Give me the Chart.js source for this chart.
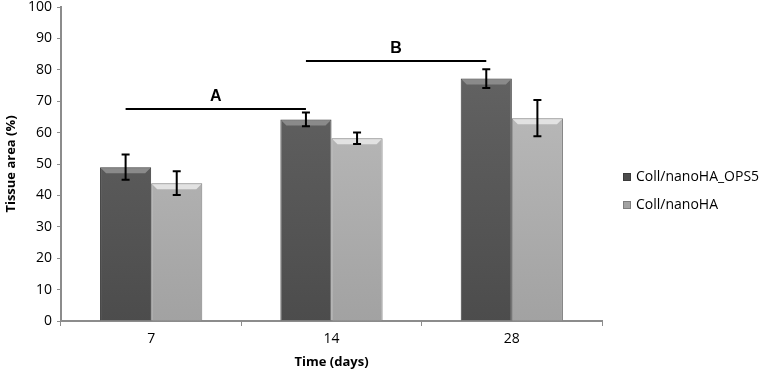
<!DOCTYPE html>
<html>
<head>
<meta charset="utf-8">
<script src="https://cdn.jsdelivr.net/npm/chart.js@4/dist/chart.umd.min.js"></script>
<style>
  body { margin: 0; background: #fff; }
  canvas { display: block; }
</style>
</head>
<body>
<canvas id="tissueChart" width="765" height="376"></canvas>
<script>
// data
const days = ['7', '14', '28'];
const seriesNames = ['Coll/nanoHA_OPS5', 'Coll/nanoHA'];
const opsValues = [49, 64.2, 77.2];
const opsErrors = [4, 2.2, 3];
const haValues = [43.9, 58.2, 64.6];
const haErrors = [3.8, 1.8, 5.8];
const yTicks = [0, 10, 20, 30, 40, 50, 60, 70, 80, 90, 100];

// significance brackets (between dark bars)
const bracketLabels = ['A', 'B'];
const bracketLevels = [67.5, 82.8];
const bracketFrom = [0, 1];
const bracketTo = [1, 2];

const fills = [['#686868', '#4c4c4c'], ['#c2c2c2', '#a2a2a2']];
const bevels = ['#8a8a8a', '#e2e2e2'];

function barGradient(di) {
    return (c) => {
        const area = c.chart.chartArea;
        if (!area) return fills[di][1];
        const g = c.chart.ctx.createLinearGradient(0, area.top, 0, area.bottom);
        g.addColorStop(0, fills[di][0]);
        g.addColorStop(1, fills[di][1]);
        return g;
    };
}

const errorBars = {
    id: 'errorBars',
    afterDatasetsDraw(chart) {
        const ctx = chart.ctx;
        const y = chart.scales.y;
        const errs = [opsErrors, haErrors];
        ctx.save();
        // bevel on bar tops
        chart.data.datasets.forEach((ds, di) => {
            chart.getDatasetMeta(di).data.forEach((bar) => {
                const l = bar.x - bar.width / 2 + 1, r = bar.x + bar.width / 2 - 1;
                ctx.fillStyle = bevels[di];
                ctx.beginPath();
                ctx.moveTo(l, bar.y + 1); ctx.lineTo(r, bar.y + 1);
                ctx.lineTo(r - 5, bar.y + 6); ctx.lineTo(l + 5, bar.y + 6);
                ctx.closePath();
                ctx.fill();
            });
        });
        ctx.strokeStyle = '#000';
        ctx.lineWidth = 2;
        chart.data.datasets.forEach((ds, di) => {
            const meta = chart.getDatasetMeta(di);
            meta.data.forEach((bar, i) => {
                const v = ds.data[i];
                const top = y.getPixelForValue(v + errs[di][i]);
                const bot = y.getPixelForValue(v - errs[di][i]);
                ctx.beginPath();
                ctx.moveTo(bar.x, top); ctx.lineTo(bar.x, bot);
                ctx.moveTo(bar.x - 4, top); ctx.lineTo(bar.x + 4, top);
                ctx.moveTo(bar.x - 4, bot); ctx.lineTo(bar.x + 4, bot);
                ctx.stroke();
            });
        });
        ctx.restore();
    }
};

const brackets = {
    id: 'brackets',
    afterDraw(chart) {
        const ctx = chart.ctx;
        const y = chart.scales.y;
        const bars = chart.getDatasetMeta(0).data;
        ctx.save();
        ctx.strokeStyle = '#000';
        ctx.fillStyle = '#000';
        ctx.lineWidth = 2;
        ctx.font = 'bold 16px "Liberation Sans", Arial, sans-serif';
        ctx.textAlign = 'center';
        ctx.textBaseline = 'middle';
        bracketLabels.forEach((lab, k) => {
            const x1 = bars[bracketFrom[k]].x;
            const x2 = bars[bracketTo[k]].x;
            const py = y.getPixelForValue(bracketLevels[k]);
            ctx.beginPath();
            ctx.moveTo(x1, py); ctx.lineTo(x2, py);
            ctx.stroke();
            ctx.fillText(lab, (x1 + x2) / 2, py - 12);
        });

        // legend
        const lx = 623;
        const ly = [177, 205];
        ctx.font = '14px "Open Sans", "Liberation Sans", sans-serif';
        ctx.textAlign = 'left';
        chart.data.datasets.forEach((ds, di) => {
            ctx.fillStyle = fills[di][1];
            ctx.fillRect(lx, ly[di] - 4, 8, 8);
            ctx.strokeStyle = ds.borderColor;
            ctx.lineWidth = 1;
            ctx.strokeRect(lx + 0.5, ly[di] - 3.5, 7, 7);
            ctx.fillStyle = '#000';
            ctx.fillText(ds.label, lx + 13, ly[di]);
        });
        ctx.restore();
    }
};

new Chart(document.getElementById('tissueChart'), {
    type: 'bar',
    data: {
        labels: days,
        datasets: [
            { label: seriesNames[0], data: opsValues, backgroundColor: barGradient(0), borderColor: '#3a3a3a', borderWidth: 1 },
            { label: seriesNames[1], data: haValues, backgroundColor: barGradient(1), borderColor: '#7c7c7c', borderWidth: 1 }
        ]
    },
    options: {
        responsive: false,
        animation: false,
        categoryPercentage: 0.567,
        barPercentage: 1,
        layout: { padding: { top: 7, right: 163, left: 0, bottom: 0 } },
        plugins: {
            legend: { display: false },
            tooltip: { enabled: false }
        },
        scales: {
            x: {
                grid: { display: true, drawOnChartArea: false, drawTicks: true, tickLength: 5, color: '#8c8c8c' },
                border: { color: '#8c8c8c', width: 2 },
                ticks: { color: '#000', padding: 5, font: { size: 14, family: '"Open Sans", "Liberation Sans", sans-serif' } },
                title: { display: true, text: 'Time (days)', color: '#000', padding: { top: 0, bottom: 6 },
                         font: { size: 13, weight: 'bold', family: '"Open Sans", "Liberation Sans", sans-serif' } },
                afterFit(s) { s.height = 55; s.paddingLeft = 0; s.paddingRight = 0; }
            },
            y: {
                min: 0,
                max: 100,
                afterBuildTicks(s) { s.ticks = yTicks.map(v => ({ value: v })); },
                grid: { display: true, drawOnChartArea: false, drawTicks: true, tickLength: 4, color: '#8c8c8c' },
                border: { color: '#8c8c8c', width: 2 },
                ticks: { color: '#000', padding: 5, font: { size: 14, family: '"Open Sans", "Liberation Sans", sans-serif' } },
                title: { display: true, text: 'Tissue area (%)', color: '#000', padding: { top: 3, bottom: 0 },
                         font: { size: 13, weight: 'bold', family: '"Open Sans", "Liberation Sans", sans-serif' } },
                afterFit(s) { s.width = 61; s.paddingTop = 0; s.paddingBottom = 0; }
            }
        }
    },
    plugins: [errorBars, brackets]
});
</script>
</body>
</html>
